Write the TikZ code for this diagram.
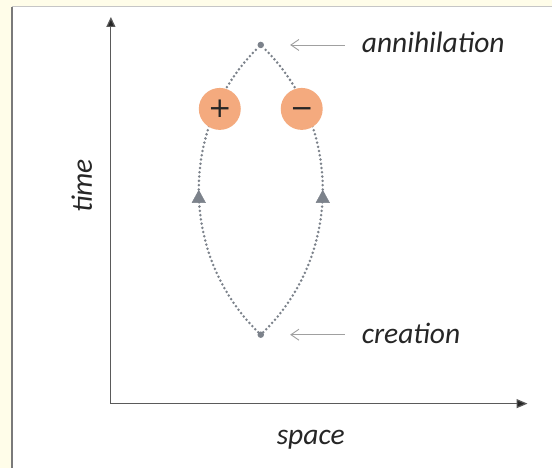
\documentclass[tikz,border=0pt]{standalone}
\usepackage{fontspec}
\setmainfont{Carlito}
\newfontfamily\signfont{DejaVu Sans}
\usetikzlibrary{arrows.meta,decorations.markings}
\definecolor{bgcream}{HTML}{FFFDE9}
\definecolor{framegray}{HTML}{7A7A7A}
\definecolor{dotgray}{HTML}{7C828B}
\definecolor{axisgray}{HTML}{5A5A5A}
\definecolor{chargefill}{HTML}{F4AA7E}
\definecolor{txt}{HTML}{262626}
\definecolor{pointergray}{HTML}{A0A0A0}
\tikzset{
  axis/.style={draw=axisgray, line width=1.2pt, line join=miter,
    {Triangle[length=10pt,width=9pt,fill=black!85]}-{Triangle[length=11pt,width=9pt,fill=black!85]}},
  worldline/.style={draw=dotgray, line width=2.8pt, line cap=round,
    dash pattern=on 0pt off 4.3pt,
    postaction={decorate},
    decoration={markings, mark=at position 0.5 with
      {\arrow[solid, fill=dotgray, draw=dotgray, line width=0.4pt]{Triangle[length=13pt,width=14pt]}}}},
  enddot/.style={circle, fill=dotgray, inner sep=0pt, minimum size=6.5pt},
  charge/.style={circle, fill=chargefill, inner sep=0pt, minimum size=42pt,
    text=txt, font=\signfont\fontsize{28}{30}\selectfont},
  lbl/.style={text=txt, inner sep=0pt, font=\fontsize{29.5}{34}\selectfont\itshape},
  pointer/.style={draw=pointergray, line width=0.9pt,
    -{Straight Barb[length=8pt,width=11pt]}},
}
\begin{document}
\begin{tikzpicture}[x=1pt,y=-1pt]
  % background and frame
  \fill[bgcream] (0,0) rectangle (552,468);
  \fill[white] (12,7) rectangle (552,468);
  \draw[gray!45, line width=1pt] (12,7) -- (552,7);
  \draw[framegray, line width=1.3pt] (12,468) -- (12,7);
  \useasboundingbox (0,0) rectangle (552,468);

  % axes
  \coordinate (O) at (111,404);
  \coordinate (ytip) at (111,17);
  \coordinate (xtip) at (528,404);
  \draw[axis] (ytip) -- (O) -- (xtip);
  \node[lbl, rotate=90, anchor=base] (tlabel) at (92,186) {time};
  \node[lbl, anchor=base] (slabel) at (311,445) {space};

  % events
  \node[enddot] (top) at (261,45) {};
  \node[enddot] (bot) at (261,335) {};

  % world lines
  \draw[worldline] (bot) to[bend left=45.6] (top);
  \draw[worldline] (bot) to[bend right=45.6] (top);

  % particles
  \node[charge] (plus) at (220,109) {+};
  \node[charge] (minus) at (302,109) {\vphantom{+}−};

  % labels and pointers
  \node[lbl, anchor=base west] (ann) at (362,53) {annihilation};
  \node[lbl, anchor=base west] (cre) at (362,344) {creation};
  \draw[pointer, shorten <=17pt, shorten >=26pt] (ann.west |- top) -- (top);
  \draw[pointer, shorten <=17pt, shorten >=26pt] (cre.west |- bot) -- (bot);
\end{tikzpicture}
\end{document}
